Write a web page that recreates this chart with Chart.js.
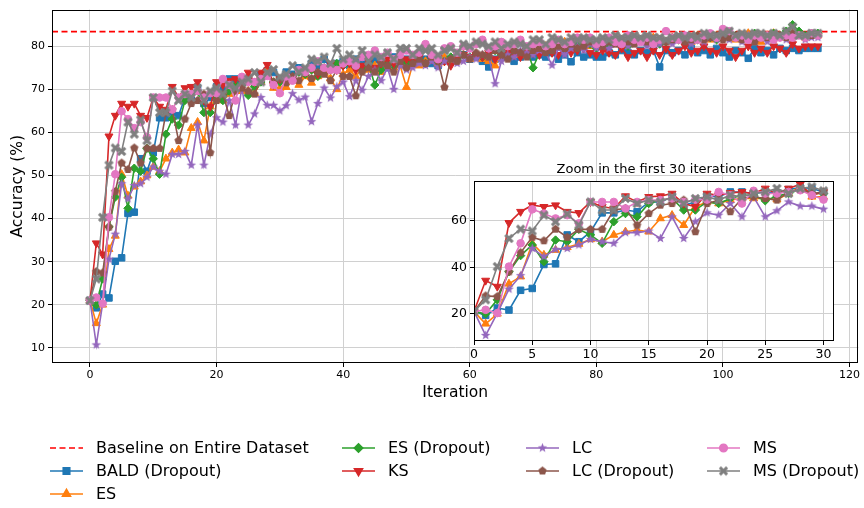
<!DOCTYPE html>
<html>
<head>
<meta charset="utf-8">
<script src="https://cdn.jsdelivr.net/npm/chart.js@4.4.1/dist/chart.umd.min.js"></script>
<style>
  html, body { margin: 0; padding: 0; background: #fff; }
  #wrap { position: relative; width: 864px; height: 508px; }
  #main { position: absolute; left: 0; top: 0; }
  #inset { position: absolute; left: 440px; top: 158px; }
</style>
</head>
<body>
<div id="wrap">
  <canvas id="main" width="864" height="508"></canvas>
  <canvas id="inset" width="410" height="206"></canvas>
</div>
<script>
// accuracy (%) per iteration
const bald = [
  21, 19.3, 22.5, 21.6, 30.1, 30.9, 41.2, 41.5, 53.9, 51,
  55.3, 63.4, 63.4, 64.6, 63.9, 68.1, 68.1, 70.3, 66.7, 68.1,
  70.6, 70.3, 72.4, 72.4, 71.7, 72.4, 71.7, 73.4, 74.3, 73.9,
  72.4,
  74, 73.5, 75, 74.5, 76, 75.5, 77, 75, 76, 76.5,
  75.5, 77, 76, 75.5, 77, 76.5, 75, 77.5, 76.5, 77,
  76, 77.5, 77, 76, 75.5, 77, 76.5, 77.5, 78, 77,
  77.5, 76.5, 75.2, 77, 77.5, 78, 76.5, 77.5, 78, 77.5,
  78, 77.5, 78.5, 77, 78, 76.4, 78.5, 77.5, 78, 77.5,
  77.5, 78.5, 78, 79, 78.5, 78, 79, 78.5, 79, 75.2,
  79, 78.5, 79, 78, 79.5, 78.5, 79, 78, 79.5, 78.5,
  77.5, 79, 78.5, 77.2, 79.5, 78.5, 79, 78, 79.5, 79, 79.5, 79, 79.5, 79.5, 79.5
];
const es = [
  21, 15.7, 20, 32.9, 36, 50.3, 45.3, 47.4, 48.6, 50,
  52, 51, 53.9, 55.3, 56, 55.3, 61, 62.4, 58.1, 66,
  68.1, 67.4, 68.9, 69.6, 69.6, 69.6, 69.1, 71.7, 74.6, 70.3,
  70.3,
  70.5, 72, 71, 73, 71.5, 73, 74, 72.5, 70, 73.5,
  74.5, 73, 75, 74.5, 75.5, 74, 76, 75, 75.5, 70.5,
  76, 75.5, 76.5, 77, 76, 77.5, 76.5, 77, 78, 77,
  78, 77, 76.5, 75.5, 78, 78.5, 79, 78, 79.5, 79,
  79.5, 80, 79, 80.5, 81, 80, 80.5, 81, 80, 80.5,
  81, 80.5, 81, 81.5, 80.5, 81, 81.5, 81, 82, 81.5,
  81, 82, 81.5, 82, 81, 82.5, 82, 81.5, 82.5, 82,
  82, 81.5, 82.5, 83, 82, 81, 82.5, 83, 82.5, 82, 83, 82.5, 82, 82.5, 82.5
];
const esDropout = [
  21, 20, 26, 38.1, 45, 49.6, 42.4, 51.7, 51, 56.3,
  53.9, 50.3, 59.6, 63.1, 61.7, 67.4, 68.9, 69.6, 64.6, 64.6,
  68.1, 67.4, 69.6, 71, 71, 68.6, 70.6, 71.7, 73.4, 71.7,
  71.7,
  73, 72.5, 74, 73.5, 74.5, 73, 75, 74.5, 76, 75.5,
  76, 75, 74.5, 76, 71, 74.5, 76, 75.5, 77, 76,
  76.5, 77, 76, 77.5, 76, 76.5, 77.5, 77, 78, 77.5,
  78, 77.5, 78.5, 79, 78, 78.5, 79, 78.5, 79.5, 75,
  78.5, 79.5, 79, 80, 79.5, 79, 80.5, 80, 80.5, 79.5,
  80.5, 80, 81, 80.5, 80, 81, 81.5, 80.5, 81, 80.5,
  81, 82, 81.5, 81, 82, 81.5, 82.5, 82, 81.5, 82.5,
  82, 82.5, 81.5, 82, 83, 82.5, 82, 83, 82.5, 83.5, 85, 83.5, 82.5, 83, 83
];
const ks = [
  21, 34.3, 31.7, 59.1, 63.9, 66.7, 66, 66.7, 63.9, 63.4,
  68.1, 66, 65.3, 70.6, 68.1, 70.3, 70.6, 71.7, 67.4, 66,
  71.7, 71, 72, 72.4, 71.7, 73.9, 71.7, 73.9, 75.7, 71,
  72.4,
  73, 72.5, 74.5, 74, 75, 73.5, 75, 76, 74.5, 75.5,
  76, 74.5, 75.5, 76.5, 75, 76, 77, 76, 76.5, 77,
  76.5, 77.5, 76, 77, 77.5, 76.5, 75.5, 77, 78, 77.5,
  78, 77.5, 78.5, 77, 78, 79, 78, 77.5, 79, 78.5,
  78, 79, 78.5, 78, 79.5, 78.5, 79, 79.5, 78.5, 78,
  79, 78.5, 78, 79.5, 77.5, 78.5, 79, 77.5, 79, 78,
  79.5, 78, 79, 80, 78.5, 79, 80, 79, 78.5, 80,
  79, 77.5, 79, 80, 78.5, 79.5, 78.5, 80, 79.5, 78.5, 80.5, 79.5, 80, 80, 80
];
const lc = [
  21, 10.7, 20.3, 30.6, 36.4, 48.1, 44.6, 47.7, 48.1, 49.6,
  52, 51, 50.3, 54.9, 54.9, 55.6, 52.4, 61.7, 52.4, 59.6,
  63.4, 62.4, 67.4, 61.7, 70.3, 61.7, 64.3, 68.1, 66.3, 66.3,
  65,
  66.2, 69, 67.5, 68.2, 62.5, 66.7, 70.3, 68, 70.6, 71.7,
  68.3, 72, 69.8, 73, 74.5, 72, 75, 70, 75.5, 74.5,
  75, 76, 75.5, 76.5, 75, 76.5, 77, 76, 76.5, 77.5,
  77, 78, 77.5, 71.3, 76.5, 78, 77.5, 79, 78.5, 78,
  79, 78.5, 75.6, 79.5, 78, 79.5, 80, 79, 80.5, 79.5,
  80, 79.5, 80.5, 81, 80, 80.5, 81, 80, 81.5, 80.5,
  81, 80.5, 81.5, 82, 80.5, 81.5, 81, 82, 81.5, 82,
  81.5, 82, 81, 82.5, 81.5, 82, 81, 82, 82.5, 81.5, 82, 82.5, 81.5, 82, 82
];
const lcDropout = [
  21, 27.7, 27.4, 38, 46.3, 52.9, 51.4, 56.4, 52.9, 56.3,
  56.3, 56.3, 64.6, 65.3, 58.1, 63.1, 66.7, 67.4, 68.9, 55.3,
  67.4, 68.9, 63.9, 69.6, 70.3, 69.6, 68.9, 72.4, 73.4, 71.7,
  72.4,
  71.5, 73, 72, 74, 72.5, 74, 73.5, 72, 74.5, 73,
  73, 68.5, 74, 75, 74, 76, 75.5, 74, 76.5, 75,
  76, 77, 76, 77.5, 76.5, 70.5, 77, 76.5, 78, 77,
  78.5, 78, 77.5, 79, 78, 77, 79, 78.5, 77.5, 79,
  79.5, 78.5, 79, 80, 79.5, 80.5, 79.5, 80, 81, 80.5,
  80, 81, 80.5, 81.5, 81, 80.5, 81.5, 81, 80.5, 81.5,
  81, 81.5, 82, 81, 81.5, 82.5, 81.5, 82, 82.5, 81.5,
  82, 82.5, 81.5, 82, 81, 82.5, 82, 81.5, 82.5, 82, 83, 82.5, 82, 82.5, 82.5
];
const ms = [
  21, 21.7, 20.3, 40.3, 50.3, 64.9, 63.1, 61, 62.4, 58.9,
  68.1, 68.1, 68.1, 65.3, 68.1, 68.9, 68.9, 69.6, 68.1, 69.1,
  69.1, 72.4, 71, 67.4, 72.9, 71.7, 71.7, 72.4, 73.1, 71,
  69.1,
  73, 72, 74.5, 74, 75, 76.5, 75, 74.5, 74.5, 76,
  76.5, 75.5, 77.5, 78, 79, 77.5, 78.5, 77, 78, 79,
  78, 78.5, 80.5, 78, 77, 79.5, 80, 78.5, 80, 79.5,
  80.5, 81.5, 79.5, 80, 81, 80, 80.5, 81.5, 80, 80.5,
  81, 80, 80.5, 81.5, 80.5, 81, 82, 81.5, 82, 80.5,
  81, 82, 81, 80.5, 82.5, 81.5, 81, 82, 80.5, 81.5,
  83.5, 82, 81.5, 82.5, 82, 81.5, 82.5, 83, 82, 84,
  83.5, 82, 82.5, 81.5, 82.5, 82, 82.5, 81.5, 82, 82.5, 82, 82.5, 82, 83, 82.5
];
const msDropout = [
  21, 26, 40.3, 52.4, 56.4, 55.6, 62.4, 59.6, 62.9, 58.1,
  68.1, 64.6, 64.6, 69.6, 67.4, 68.9, 68.1, 70.3, 67.4, 69.6,
  70.3, 68.9, 71, 70.3, 71.7, 72.4, 73.9, 71.7, 73.9, 74.6,
  72.9,
  73.5, 75.5, 74, 75, 77, 76.5, 77.5, 76, 79.5, 77,
  78, 77, 79, 76.5, 78, 77.5, 78.5, 77, 79.5, 79.5,
  78, 79.5, 79, 79.5, 78, 79, 79.5, 78.5, 80.5, 80,
  81, 80.5, 80, 81, 79.5, 80.5, 81, 80.5, 80, 81.5,
  81.5, 80.5, 82, 81.5, 81, 82, 81.5, 82, 81.5, 81.5,
  82, 81.5, 82.5, 82, 82, 82.5, 82, 82.5, 82, 82,
  81.5, 82, 82.5, 82, 82.5, 82, 83, 82.5, 82.5, 83,
  83.5, 82.5, 83, 82.5, 83, 83, 82.5, 83, 82.5, 83.5, 84.5, 82.5, 82.5, 83, 83
];
const baseline = 83.4;

const xTicks = [0, 20, 40, 60, 80, 100, 120];
const yTicks = [10, 20, 30, 40, 50, 60, 70, 80];
const insetXTicks = [0, 5, 10, 15, 20, 25, 30];
const insetYTicks = [20, 40, 60];
const insetLast = 30;

const F = "'DejaVu Sans', sans-serif";

function markerImage(shape, color) {
  const c = document.createElement('canvas');
  c.width = 11; c.height = 11;
  const g = c.getContext('2d');
  g.translate(5.5, 5.5);
  g.fillStyle = color;
  g.strokeStyle = color;
  g.beginPath();
  if (shape === 'star') {
    for (let k = 0; k < 10; k++) {
      const r = k % 2 ? 2.1 : 5;
      const a = -Math.PI / 2 + k * Math.PI / 5;
      g.lineTo(r * Math.cos(a), r * Math.sin(a));
    }
    g.closePath(); g.fill();
  } else if (shape === 'pentagon') {
    for (let k = 0; k < 5; k++) {
      const a = -Math.PI / 2 + k * 2 * Math.PI / 5;
      g.lineTo(4.4 * Math.cos(a), 4.4 * Math.sin(a));
    }
    g.closePath(); g.fill();
  } else {
    g.lineWidth = 3;
    g.moveTo(-3.6, -3.6); g.lineTo(3.6, 3.6);
    g.moveTo(3.6, -3.6); g.lineTo(-3.6, 3.6);
    g.stroke();
  }
  return c;
}

const series = [
  { label: 'BALD (Dropout)', values: bald, color: '#1f77b4', style: 'rect', radius: 4.6 },
  { label: 'ES', values: es, color: '#ff7f0e', style: 'triangle', radius: 4.6 },
  { label: 'ES (Dropout)', values: esDropout, color: '#2ca02c', style: 'rectRot', radius: 4.2 },
  { label: 'KS', values: ks, color: '#d62728', style: 'triangle', radius: 4.6, rotation: 180 },
  { label: 'LC', values: lc, color: '#9467bd', style: markerImage('star', '#9467bd'), radius: 4 },
  { label: 'LC (Dropout)', values: lcDropout, color: '#8c564b', style: markerImage('pentagon', '#8c564b'), radius: 4 },
  { label: 'MS', values: ms, color: '#e377c2', style: 'circle', radius: 3.8 },
  { label: 'MS (Dropout)', values: msDropout, color: '#7f7f7f', style: markerImage('x', '#7f7f7f'), radius: 4 }
];

function buildDatasets(count) {
  return series.map((s, i) => ({
    label: s.label,
    data: s.values.slice(0, count).map((v, k) => ({ x: k, y: v })),
    borderColor: s.color,
    backgroundColor: s.color,
    borderWidth: 1.6,
    pointStyle: s.style,
    pointRadius: s.radius,
    pointRotation: s.rotation || 0,
    pointBorderWidth: 1,
    pointBackgroundColor: s.color,
    pointBorderColor: s.color,
    order: series.length - i,
    tension: 0
  }));
}

const xMin = -6, xMax = 121.4, yMin = 6.5, yMax = 88.5;

const baselineSet = {
  label: 'Baseline on Entire Dataset',
  data: [{ x: xMin, y: baseline }, { x: xMax, y: baseline }],
  borderColor: '#ff0000',
  borderWidth: 1.6,
  borderDash: [6, 3.5],
  pointRadius: 0,
  order: series.length + 1
};

const frame = {
  id: 'frame',
  afterDraw(chart) {
    const a = chart.chartArea, ctx = chart.ctx;
    ctx.save();
    ctx.strokeStyle = '#000';
    ctx.lineWidth = 1;
    ctx.strokeRect(Math.round(a.left) + 0.5, Math.round(a.top) + 0.5,
      Math.round(a.right - a.left) - 1, Math.round(a.bottom - a.top) - 1);
    ctx.restore();
  }
};

const whiteBg = {
  id: 'whiteBg',
  beforeDraw(chart) {
    const a = chart.chartArea, ctx = chart.ctx;
    ctx.save();
    ctx.fillStyle = '#fff';
    ctx.fillRect(a.left, a.top, a.right - a.left, a.bottom - a.top);
    ctx.restore();
  }
};

// legend laid out in columns, as matplotlib does with ncol=4
const legendCols = [[baselineSet.label, 0, 1], [2, 3], [4, 5], [6, 7]];
const legendX = [50, 342, 526, 707];
const legendY = [448, 471, 494];

const legendPlugin = {
  id: 'colLegend',
  afterDraw(chart) {
    const ctx = chart.ctx;
    ctx.save();
    legendCols.forEach((col, ci) => {
      col.forEach((item, ri) => {
        const x = legendX[ci], y = legendY[ri];
        let color, dash = [], label, s = null;
        if (typeof item === 'string') {
          color = '#ff0000'; dash = [6, 3.5]; label = item;
        } else {
          s = series[item]; color = s.color; label = s.label;
        }
        ctx.strokeStyle = color;
        ctx.fillStyle = color;
        ctx.lineWidth = 1.6;
        ctx.setLineDash(dash);
        ctx.beginPath();
        ctx.moveTo(x, y); ctx.lineTo(x + 33, y);
        ctx.stroke();
        ctx.setLineDash([]);
        if (s) {
          Chart.helpers.drawPoint(ctx, {
            pointStyle: s.style, radius: s.radius, rotation: s.rotation || 0, borderWidth: 1
          }, x + 16.5, y);
        }
        ctx.fillStyle = '#000';
        ctx.font = '16px ' + F;
        ctx.textBaseline = 'middle';
        ctx.textAlign = 'left';
        ctx.fillText(label, x + 46, y + 1);
      });
    });
    ctx.restore();
  }
};

const gridColor = '#d0d0d0';

new Chart(document.getElementById('main'), {
  type: 'line',
  data: { datasets: [baselineSet].concat(buildDatasets(bald.length)) },
  options: {
    responsive: false,
    animation: false,
    layout: { padding: { left: 9, right: 4, top: 7, bottom: 106 } },
    plugins: { legend: { display: false }, tooltip: { enabled: false } },
    scales: {
      x: {
        type: 'linear', min: xMin, max: xMax,
        afterBuildTicks: s => { s.ticks = xTicks.map(v => ({ value: v })); },
        afterFit: s => { s.height = 39; },
        grid: { color: gridColor, lineWidth: 1, tickLength: 4, tickColor: '#000' },
        border: { display: false },
        ticks: { color: '#000', font: { family: F, size: 11 }, padding: 2, maxRotation: 0, autoSkip: false },
        title: { display: true, text: 'Iteration', color: '#000', font: { family: F, size: 15.5 }, padding: 0 }
      },
      y: {
        type: 'linear', min: yMin, max: yMax,
        afterBuildTicks: s => { s.ticks = yTicks.map(v => ({ value: v })); },
        afterFit: s => { s.width = 43; },
        grid: { color: gridColor, lineWidth: 1, tickLength: 4, tickColor: '#000' },
        border: { display: false },
        ticks: { color: '#000', font: { family: F, size: 11 }, padding: 3, autoSkip: false },
        title: { display: true, text: 'Accuracy (%)', color: '#000', font: { family: F, size: 15.5 }, padding: 0 }
      }
    }
  },
  plugins: [frame, legendPlugin]
});

new Chart(document.getElementById('inset'), {
  type: 'line',
  data: { datasets: buildDatasets(insetLast + 1) },
  options: {
    responsive: false,
    animation: false,
    layout: { padding: { left: 0, right: 16, top: 0, bottom: 0 } },
    plugins: {
      legend: { display: false },
      tooltip: { enabled: false },
      title: {
        display: true, text: 'Zoom in the first 30 iterations', color: '#000',
        font: { family: F, size: 13, weight: 'normal' }, padding: { top: 4, bottom: 3.4 }, fullSize: false
      }
    },
    scales: {
      x: {
        type: 'linear', min: 0, max: 30.9,
        afterBuildTicks: s => { s.ticks = insetXTicks.map(v => ({ value: v })); },
        afterFit: s => { s.height = 23; },
        grid: { color: gridColor, lineWidth: 1, tickLength: 4, tickColor: '#000' },
        border: { display: false },
        ticks: { color: '#000', font: { family: F, size: 12.5 }, padding: 2, maxRotation: 0, autoSkip: false }
      },
      y: {
        type: 'linear', min: 8.3, max: 77.1,
        afterBuildTicks: s => { s.ticks = insetYTicks.map(v => ({ value: v })); },
        afterFit: s => { s.width = 34; },
        grid: { color: gridColor, lineWidth: 1, tickLength: 4, tickColor: '#000' },
        border: { display: false },
        ticks: { color: '#000', font: { family: F, size: 12.5 }, padding: 3, autoSkip: false }
      }
    }
  },
  plugins: [whiteBg, frame]
});
</script>
</body>
</html>
